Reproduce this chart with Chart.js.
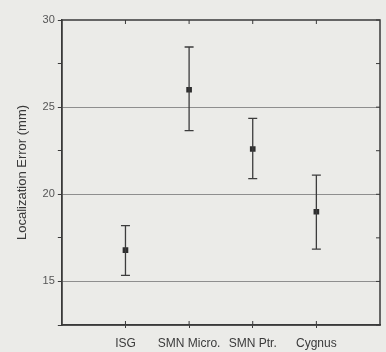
<!DOCTYPE html>
<html><head><meta charset="utf-8">
<script src="https://cdn.jsdelivr.net/npm/chart.js@4/dist/chart.umd.min.js"></script>
<style>
html,body{margin:0;padding:0;background:#ebebe8;}
#wrap{width:386px;height:352px;}
</style></head>
<body><div id="wrap"><canvas id="c" width="386" height="352"></canvas></div>
<script>
const categories = ['ISG', 'SMN Micro.', 'SMN Ptr.', 'Cygnus'];
const means = [16.8, 26.0, 22.6, 19.0];
const upper = [18.2, 28.45, 24.35, 21.1];
const lower = [15.35, 23.65, 20.9, 16.85];
const yTicks = [15, 20, 25, 30];

const FONT = "'Liberation Sans',Arial,sans-serif";

const errorBars = {
  id: 'errorBars',
  afterDatasetsDraw(chart) {
    const {ctx, scales: {x, y}, chartArea: a} = chart;
    ctx.save();
    ctx.strokeStyle = '#3a3a3a';
    ctx.lineWidth = 1.5;
    ctx.strokeRect(a.left, a.top, a.right - a.left, a.bottom - a.top);
    ctx.lineWidth = 1;
    for (let i = 0; i < categories.length; i++) {
      const px = x.getPixelForValue(i + 1);
      ctx.beginPath(); ctx.moveTo(px, a.top); ctx.lineTo(px, a.top + 4); ctx.stroke();
      ctx.beginPath(); ctx.moveTo(px, a.bottom); ctx.lineTo(px, a.bottom - 4); ctx.stroke();
    }
    for (let v = 12.5; v <= 30; v += 2.5) {
      const py = y.getPixelForValue(v);
      ctx.beginPath(); ctx.moveTo(a.right, py); ctx.lineTo(a.right - 4, py); ctx.stroke();
    }
    ctx.strokeStyle = '#3c3c3c';
    ctx.lineWidth = 1.3;
    for (let i = 0; i < means.length; i++) {
      const px = x.getPixelForValue(i + 1);
      const pt = y.getPixelForValue(upper[i]);
      const pb = y.getPixelForValue(lower[i]);
      ctx.beginPath();
      ctx.moveTo(px, pt); ctx.lineTo(px, pb);
      ctx.moveTo(px - 4.5, pt); ctx.lineTo(px + 4.5, pt);
      ctx.moveTo(px - 4.5, pb); ctx.lineTo(px + 4.5, pb);
      ctx.stroke();
    }
    ctx.restore();
  }
};

new Chart(document.getElementById('c'), {
  type: 'scatter',
  data: {
    datasets: [{
      data: means.map((m, i) => ({x: i + 1, y: m})),
      pointStyle: 'rect',
      pointRadius: 4,
      backgroundColor: '#2e2e2e',
      borderColor: '#2e2e2e',
      borderWidth: 0
    }]
  },
  options: {
    responsive: false,
    animation: false,
    layout: {padding: {top: 20, right: 6, left: 15, bottom: 0}},
    plugins: {legend: {display: false}, tooltip: {enabled: false}},
    scales: {
      x: {
        type: 'linear', min: 0, max: 5,
        afterBuildTicks: s => { s.ticks = categories.map((c, i) => ({value: i + 1})); },
        afterFit: s => { s.height = 27; },
        ticks: {
          callback: (v) => categories[v - 1] || '',
          color: '#3a3a3a', font: {family: FONT, size: 12}, padding: 8, maxRotation: 0
        },
        grid: {drawOnChartArea: false, tickLength: 3, color: '#3a3a3a'},
        border: {color: '#3a3a3a', width: 1.5}
      },
      y: {
        type: 'linear', min: 12.5, max: 30,
        afterBuildTicks: s => { const t = []; for (let v = 12.5; v <= 30; v += 2.5) t.push({value: v}); s.ticks = t; },
        ticks: {
          callback: v => yTicks.includes(v) ? String(v) : '',
          color: '#555', font: {family: FONT, size: 11}, padding: 3
        },
        grid: {
          color: c => (c.tick && [15, 20, 25].includes(c.tick.value)) ? '#8e8e8e' : 'rgba(0,0,0,0)',
          tickColor: '#3a3a3a', tickLength: 4, lineWidth: 1
        },
        border: {color: '#3a3a3a', width: 1.5},
        title: {display: true, text: 'Localization Error (mm)', color: '#3a3a3a',
          font: {family: FONT, size: 13}, padding: {top: 0, bottom: 9}}
      }
    }
  },
  plugins: [errorBars]
});
</script></body></html>
